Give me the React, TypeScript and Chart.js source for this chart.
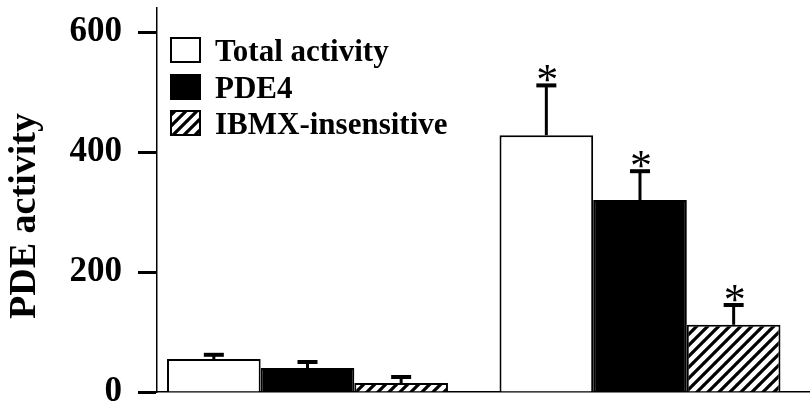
import React, { useEffect, useRef } from 'react';
import { Chart, registerables } from 'chart.js';

Chart.register(...registerables);

// ---- data ----
const categories = ['Control', 'Stimulated'];
const groupPositions = [1, 2];
const seriesNames = ['Total activity', 'PDE4', 'IBMX-insensitive'];
const totalActivity = [55, 428];
const totalActivityErr = [7, 83];
const pde4 = [40, 320];
const pde4Err = [10, 48];
const ibmxInsensitive = [15, 112];
const ibmxInsensitiveErr = [10, 33];
const significant = [false, true];
const yTicks = [0, 200, 400, 600];
const yMax = 640;
const yTitle = 'PDE activity';

const seriesValues = [totalActivity, pde4, ibmxInsensitive];
const seriesErrors = [totalActivityErr, pde4Err, ibmxInsensitiveErr];

const SERIF = "'Liberation Serif', 'Times New Roman', serif";

function makeHatch(): CanvasPattern | string {
  const s = 11;
  const c = document.createElement('canvas');
  c.width = s;
  c.height = s;
  const g = c.getContext('2d');
  if (!g) return '#888';
  g.fillStyle = '#fff';
  g.fillRect(0, 0, s, s);
  g.strokeStyle = '#000';
  g.lineWidth = 3.2;
  g.lineCap = 'square';
  g.beginPath();
  for (const k of [-1, 0, 1]) {
    g.moveTo(k * s, s);
    g.lineTo(k * s + s, 0);
  }
  g.stroke();
  const p = g.createPattern(c, 'repeat');
  return p || '#888';
}

const errorBarPlugin = {
  id: 'errorBars',
  afterDatasetsDraw(chart: any) {
    const ctx = chart.ctx;
    const yScale = chart.scales.y;
    chart.data.datasets.forEach((_ds: any, di: number) => {
      const meta = chart.getDatasetMeta(di);
      meta.data.forEach((bar: any, i: number) => {
        const v = seriesValues[di][i];
        const e = seriesErrors[di][i];
        const topPx = yScale.getPixelForValue(v + e);
        const x = bar.x;
        ctx.save();
        ctx.strokeStyle = '#000';
        ctx.lineWidth = 3;
        ctx.beginPath();
        ctx.moveTo(x, bar.y);
        ctx.lineTo(x, topPx);
        ctx.stroke();
        ctx.lineWidth = 4;
        ctx.beginPath();
        ctx.moveTo(x - 10, topPx);
        ctx.lineTo(x + 10, topPx);
        ctx.stroke();
        if (significant[i]) {
          ctx.fillStyle = '#000';
          ctx.font = `44px ${SERIF}`;
          ctx.textAlign = 'center';
          ctx.textBaseline = 'alphabetic';
          ctx.fillText('*', x + 1, topPx + 9);
        }
        ctx.restore();
      });
    });
  },
};

const legendAndTitlePlugin = {
  id: 'customLegendTitle',
  afterDraw(chart: any) {
    const ctx = chart.ctx;
    const area = chart.chartArea;
    // legend
    const boxW = 29;
    const boxH = 24;
    const x0 = area.left + 14;
    const rows = [area.top + 42, area.top + 79, area.top + 115];
    chart.data.datasets.forEach((ds: any, i: number) => {
      const cy = rows[i];
      ctx.save();
      ctx.fillStyle = ds.backgroundColor;
      ctx.fillRect(x0, cy - boxH / 2, boxW, boxH);
      ctx.strokeStyle = '#000';
      ctx.lineWidth = 2;
      ctx.strokeRect(x0, cy - boxH / 2, boxW, boxH);
      ctx.fillStyle = '#000';
      ctx.font = `bold 31px ${SERIF}`;
      ctx.textAlign = 'left';
      ctx.textBaseline = 'middle';
      ctx.fillText(ds.label, x0 + boxW + 15, cy + 3);
      ctx.restore();
    });
    // y axis title
    ctx.save();
    ctx.translate(25, (area.top + area.bottom) / 2 + 16);
    ctx.rotate(-Math.PI / 2);
    ctx.fillStyle = '#000';
    ctx.font = `bold 38px ${SERIF}`;
    ctx.textAlign = 'center';
    ctx.textBaseline = 'middle';
    ctx.fillText(yTitle, 0, 0);
    ctx.restore();
  },
};

export default function App() {
  const ref = useRef<HTMLCanvasElement | null>(null);

  useEffect(() => {
    if (!ref.current) return;
    const hatch = makeHatch();
    const fills = ['#ffffff', '#000000', hatch];
    const chart = new Chart(ref.current, {
      type: 'bar',
      data: {
        labels: categories,
        datasets: seriesNames.map((name, di) => ({
          label: name,
          data: groupPositions.map((x, i) => ({ x, y: seriesValues[di][i] })),
          backgroundColor: fills[di] as any,
          borderColor: '#000',
          borderWidth: 2,
          categoryPercentage: 0.845,
          barPercentage: 1,
        })),
      },
      options: {
        animation: false,
        responsive: false,
        devicePixelRatio: 1,
        layout: { padding: { top: 8, right: 0, bottom: 12, left: 0 } },
        plugins: {
          legend: { display: false },
          tooltip: { enabled: false },
        },
        scales: {
          x: {
            type: 'linear',
            offset: false,
            min: 0.5474,
            max: 2.5113,
            ticks: { display: false },
            afterBuildTicks: (s: any) => {
              s.ticks = groupPositions.map((v) => ({ value: v }));
            },
            grid: { display: false, drawTicks: false },
            border: { display: true, color: '#000', width: 1.5 },
            afterFit: (s: any) => {
              s.height = 0;
              s.paddingLeft = 0;
              s.paddingRight = 0;
            },
          },
          y: {
            min: 0,
            max: yMax,
            ticks: {
              includeBounds: false,
              color: '#000',
              padding: 16,
              font: { family: SERIF, size: 35, weight: 'bold' },
            },
            afterBuildTicks: (s: any) => {
              s.ticks = yTicks.map((v) => ({ value: v }));
            },
            grid: {
              drawOnChartArea: false,
              drawTicks: true,
              tickLength: 19,
              tickWidth: 3,
              color: '#000',
            },
            border: { display: true, color: '#000', width: 1.5 },
            afterFit: (s: any) => {
              s.width = 157;
              s.paddingTop = 0;
              s.paddingBottom = 0;
            },
          },
        },
      },
      plugins: [errorBarPlugin, legendAndTitlePlugin],
    } as any);
    return () => chart.destroy();
  }, []);

  return (
    <div style={{ position: 'fixed', left: 0, top: 0, width: 810, height: 404, background: '#fff' }}>
      <canvas ref={ref} width={810} height={404} />
    </div>
  );
}
